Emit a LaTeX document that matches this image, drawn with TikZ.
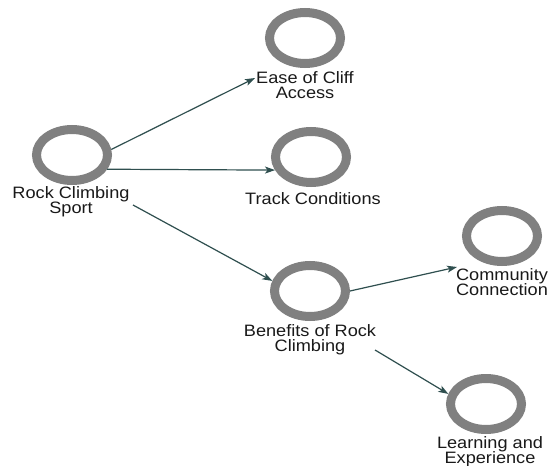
\documentclass[tikz,border=0pt]{standalone}
\usepackage{fontspec}
\setmainfont{Liberation Sans}[FakeStretch=1.1]
\usetikzlibrary{arrows.meta,shapes.geometric}
\definecolor{ringgray}{RGB}{128,128,128}
\definecolor{conncol}{RGB}{47,79,79}
\definecolor{txtcol}{RGB}{25,25,25}
\begin{document}
\begin{tikzpicture}[x=1pt,y=-1pt,
 ring/.style={ellipse,draw=ringgray,line width=9pt,minimum width=71pt,minimum height=51pt,inner sep=0pt},
 lbl/.style={anchor=north,align=center,inner sep=0pt,text=txtcol,font={\fontsize{16.5}{15}\selectfont\lineskiplimit=-20pt}},
 conn/.style={draw=conncol,line width=1.2pt,-{Stealth[length=10pt,width=7pt,inset=2.5pt]}}]
\useasboundingbox[fill=white] (0,0) rectangle (555,466);
% rings
\node[ring] (rock) at (72,155) {};
\node[ring] (ease) at (305,38) {};
\node[ring] (track) at (311,157) {};
\node[ring] (benefits) at (310,291) {};
\node[ring] (community) at (502,236) {};
\node[ring] (learning) at (486,404) {};
% labels
\node[lbl] (rocklbl) at (71,186) {Rock Climbing\\Sport};
\node[lbl] (easelbl) at (305,71) {Ease of Cliff\\Access};
\node[lbl] (tracklbl) at (313,192) {Track Conditions};
\node[lbl] (benlbl) at (310,324) {Benefits of Rock\\Climbing};
\node[lbl] (commlbl) at (502,268) {Community\\Connection};
\node[lbl] (learnlbl) at (490,436) {Learning and\\Experience};
% connector ends
\coordinate (e1) at (255,78);
\coordinate (s3) at (133,205);
\coordinate (e4) at (457,267);
\coordinate (s5) at (375,350);
% connectors
\draw[conn] (rock.8) -- (e1);
\draw[conn] (rock.-22) -- (track.200);
\draw[conn] (s3) -- (benefits.165);
\draw[conn] (benefits.east) -- (e4);
\draw[conn] (s5) -- (learning.165);
\end{tikzpicture}
\end{document}
